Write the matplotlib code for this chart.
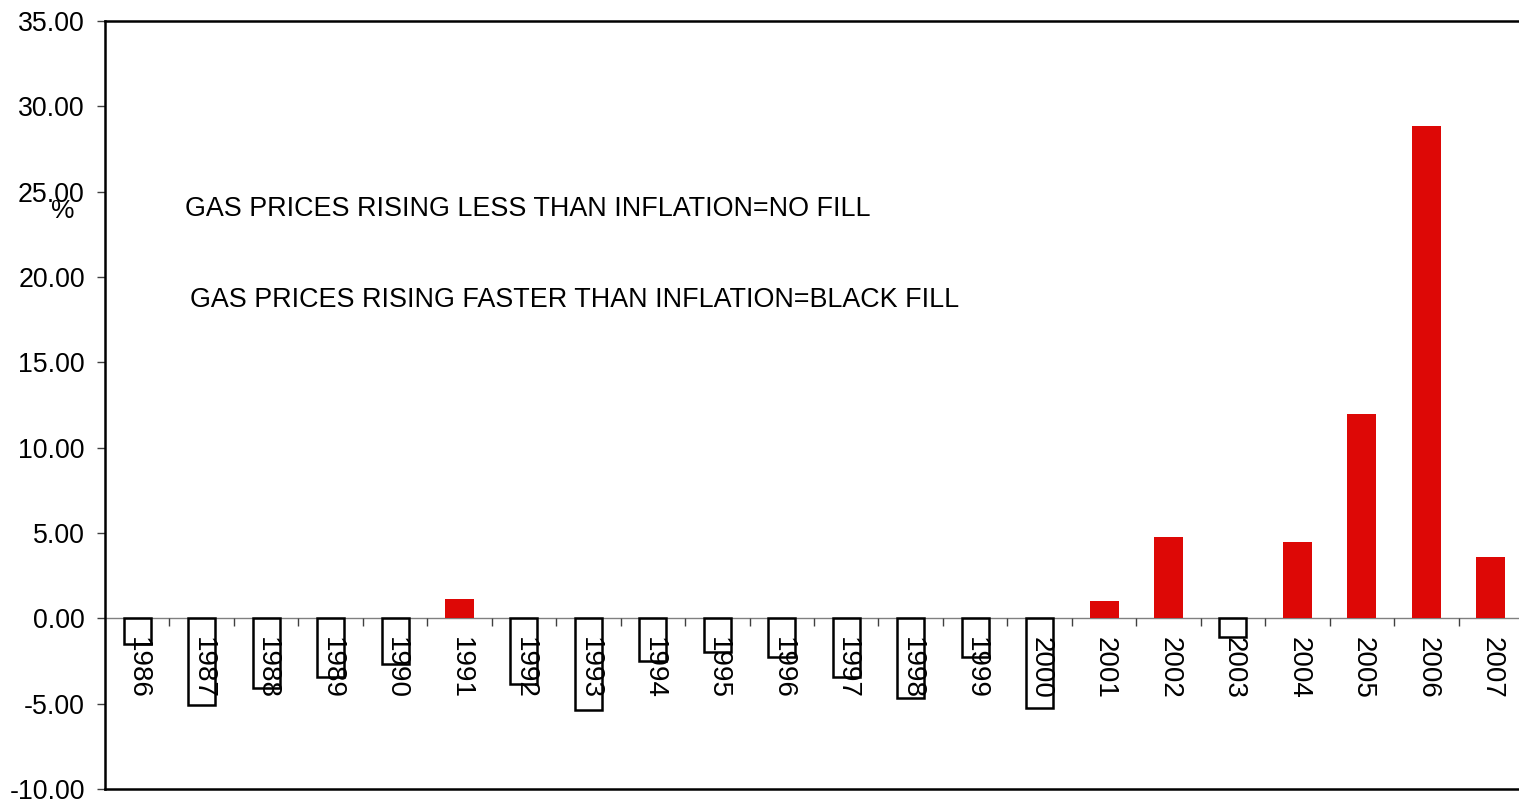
import matplotlib
matplotlib.use("Agg")
import matplotlib.pyplot as plt
import numpy as np

plt.rcParams['font.family'] = ['Liberation Sans', 'DejaVu Sans']

# Real gas price change relative to inflation, by year (%)
years = list(range(1986, 2008))
values = [-1.52, -5.07, -4.10, -3.43, -2.67, 1.15, -3.84, -5.37, -2.50, -1.97,
          -2.28, -3.41, -4.64, -2.28, -5.23, 1.02, 4.75, -1.07, 4.45, 11.95,
          28.85, 3.57]
y_ticks = [-10, -5, 0, 5, 10, 15, 20, 25, 30, 35]
note_less = "GAS PRICES RISING LESS THAN INFLATION=NO FILL"
note_faster = "GAS PRICES RISING FASTER THAN INFLATION=BLACK FILL"

RED = "#DD0806"
W, H = 1519, 801
fig = plt.figure(figsize=(W / 100, H / 100), dpi=100)
ax = fig.add_axes([105 / W, 12 / H, (1523 - 105) / W, (789 - 21) / H])

x = np.arange(len(years))
vals = np.array(values)
pos = vals > 0

ax.bar(x[pos], vals[pos], width=0.45, color=RED, edgecolor="none", zorder=2)
ax.bar(x[~pos], vals[~pos], width=0.42, facecolor="none", edgecolor="black",
       linewidth=1.8, zorder=3)

# zero line with category separators
ax.axhline(0, color="#808080", lw=1.0, zorder=1)
ax.vlines(x[:-1] + 0.5, 0, -0.42, color="#404040", lw=1.0, zorder=1)

for xi, yr in zip(x, years):
    ax.annotate(str(yr), xy=(xi, 0), xytext=(1, -19), textcoords="offset pixels",
                rotation=270, ha="center", va="top", fontsize=20, zorder=4)

ax.set_xlim(-0.5, len(years) - 0.5)
ax.set_ylim(-10, 35)
ax.set_yticks(y_ticks)
ax.set_yticklabels([f"{v:.2f}" for v in y_ticks], fontsize=19.3)
ax.set_xticks([])
ax.tick_params(axis="y", direction="out", length=6, width=1.0, pad=8.5, color="#404040")

for sp in ax.spines.values():
    sp.set_linewidth(1.8)
    sp.set_color("black")

fig.text(185 / W, 1 - 209 / H, note_less, fontsize=19.4, ha="left", va="center")
fig.text(190 / W, 1 - 300 / H, note_faster, fontsize=19.4, ha="left", va="center")
fig.text(63 / W, 1 - 211 / H, "%", fontsize=19, ha="center", va="center")

fig.savefig("out.png", dpi=100, facecolor="white")
